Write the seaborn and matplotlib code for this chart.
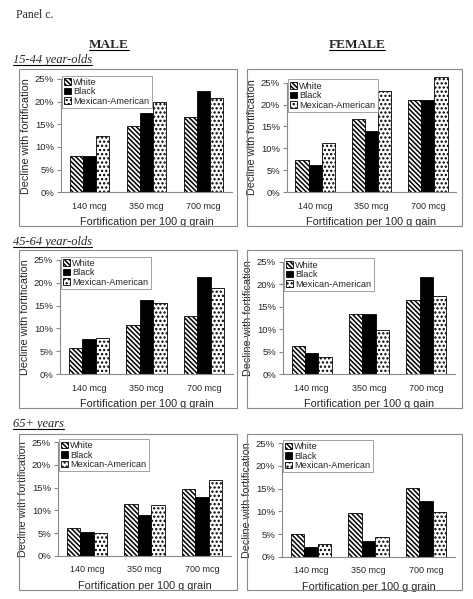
import numpy as np
import pandas as pd
import matplotlib
matplotlib.use('Agg')
import matplotlib.pyplot as plt
import seaborn as sns
from matplotlib.patches import Rectangle
from matplotlib.lines import Line2D

# data (percent decline)
doses = ['140 mcg', '350 mcg', '700 mcg']
races = ['White', 'Black', 'Mexican-American']
age_groups = ['15-44 year-olds', '45-64 year-olds', '65+ years']

# rows: White, Black, Mexican-American ; cols: 140, 350, 700 mcg
male_15_44 = [[8.1, 14.7, 16.7], [8.1, 17.4, 22.3], [12.5, 19.9, 20.7]]
female_15_44 = [[7.4, 16.8, 21.1], [6.1, 14.0, 21.1], [11.2, 23.0, 26.2]]
male_45_64 = [[5.6, 10.7, 12.7], [7.6, 16.3, 21.3], [7.8, 15.5, 18.8]]
female_45_64 = [[6.2, 13.3, 16.4], [4.7, 13.3, 21.7], [3.7, 9.7, 17.3]]
male_65 = [[6.2, 11.3, 14.6], [5.3, 9.0, 13.0], [5.1, 11.2, 16.6]]
female_65 = [[4.9, 9.7, 15.1], [2.2, 3.5, 12.2], [2.9, 4.3, 9.9]]

W, H = 473, 599
sns.set_style('white')
plt.rcParams['font.family'] = ['Liberation Sans', 'DejaVu Sans']
plt.rcParams['hatch.linewidth'] = 1.1
fig = plt.figure(figsize=(W / 100, H / 100), dpi=100)

gray = '#8a8a8a'
hatches = ['\\' * 7, None, '....']
faces = ['white', 'black', 'white']


def add_ax(l, r, b, t):
    return fig.add_axes([l / W, 1 - b / H, (r - l) / W, (b - t) / H])


def draw_panel(ax, vals, ylab_px, xlab_px):
    rows = []
    for race, v in zip(races, vals):
        for d, x in zip(doses, v):
            rows.append({'dose': d, 'race': race, 'value': x / 100})
    df = pd.DataFrame(rows)
    sns.barplot(data=df, x='dose', y='value', hue='race', hue_order=races,
                order=doses, palette=['white', 'black', 'white'], width=0.7,
                edgecolor='black', linewidth=0.6, errorbar=None,
                legend=False, ax=ax)
    for cont, h, fc in zip(ax.containers, hatches, faces):
        for bar in cont:
            bar.set_facecolor(fc)
            bar.set_hatch(h)
            bar.set_clip_on(False)
    ax.set_xlim(-0.5, 2.5)
    ax.set_ylim(0, 0.25)
    ax.set_yticks(np.arange(0, 0.26, 0.05))
    ax.set_yticklabels([f'{int(round(t * 100))}%' for t in np.arange(0, 0.26, 0.05)])
    ax.set_xticks([0, 1, 2])
    ax.set_xticklabels(doses)
    ax.set_xticks([0.5, 1.5], minor=True)
    ax.tick_params(axis='x', which='major', length=0, pad=7, labelsize=6.5)
    ax.tick_params(axis='x', which='minor', length=3, color=gray, width=0.8)
    ax.tick_params(axis='y', length=3, color=gray, width=0.8, pad=2,
                   labelsize=6.8, left=True)
    for s in ['top', 'right']:
        ax.spines[s].set_visible(False)
    for s in ['left', 'bottom']:
        ax.spines[s].set_color(gray)
        ax.spines[s].set_linewidth(0.8)
    ax.set_ylabel('Decline with fortification', fontsize=7.8)
    ax.set_xlabel(xlab_px[0], fontsize=7.8)
    bb = ax.get_position()
    wpx = bb.width * W
    hpx = bb.height * H
    ax.yaxis.set_label_coords(ylab_px / wpx, 0.5)
    ax.xaxis.set_label_coords(0.5, xlab_px[1] / hpx)
    leg = ax.legend([c.patches[0] for c in ax.containers], races,
                    loc='upper left', bbox_to_anchor=(0.005, 1.03),
                    fontsize=6.6, frameon=True, fancybox=False,
                    edgecolor=gray, handlelength=0.7, handleheight=0.7,
                    handletextpad=0.3, labelspacing=0.05, borderpad=0.25,
                    borderaxespad=0)
    leg.get_frame().set_linewidth(0.7)


panels = [
    (male_15_44, (61, 232, 192.3, 79), 'Fortification per 100 g grain'),
    (female_15_44, (287, 456, 192, 82.7), 'Fortification per 100 g gain'),
    (male_45_64, (60, 233, 374, 260), 'Fortification per 100 g grain'),
    (female_45_64, (283, 455, 374, 261.7), 'Fortification per 100 g gain'),
    (male_65, (58, 231, 555.7, 442.3), 'Fortification per 100 g grain'),
    (female_65, (282, 455, 556.7, 443.3), 'Fortification per 100 g grain'),
]

for vals, (l, r, b, t), xl in panels:
    ax = add_ax(l, r, b, t)
    draw_panel(ax, vals, -30, (xl, -25))

# gray frames round each chart
for y0, y1 in [(69, 226), (250, 408), (434, 590)]:
    for x0, x1 in [(19, 237), (247, 462)]:
        fig.patches.append(Rectangle((x0 / W, 1 - y1 / H), (x1 - x0) / W,
                                     (y1 - y0) / H, transform=fig.transFigure,
                                     fill=False, edgecolor=gray, lw=0.8))

serif = ['Liberation Serif', 'DejaVu Serif']
fig.text(16 / W, 1 - 15 / H, 'Panel c.', family=serif, fontsize=8.5,
         va='center', ha='left')
heads = [
    fig.text(109 / W, 1 - 45 / H, 'MALE', family=serif, fontsize=9.5,
             fontweight='bold', ha='center', va='center'),
    fig.text(357 / W, 1 - 45 / H, 'FEMALE', family=serif, fontsize=9.5,
             fontweight='bold', ha='center', va='center'),
]
for txt, yc in zip(age_groups, [60, 242, 424]):
    heads.append(fig.text(13 / W, 1 - yc / H, txt, family=serif, fontsize=9,
                          style='italic', ha='left', va='center'))

# underline headings
fig.canvas.draw()
rend = fig.canvas.get_renderer()
for t in heads:
    bb = t.get_window_extent(rend).transformed(fig.transFigure.inverted())
    fig.lines.append(Line2D([bb.x0, bb.x1], [bb.y0 + 0.001, bb.y0 + 0.001],
                            transform=fig.transFigure, color='black', lw=0.8))

fig.savefig('out.png', dpi=100)
